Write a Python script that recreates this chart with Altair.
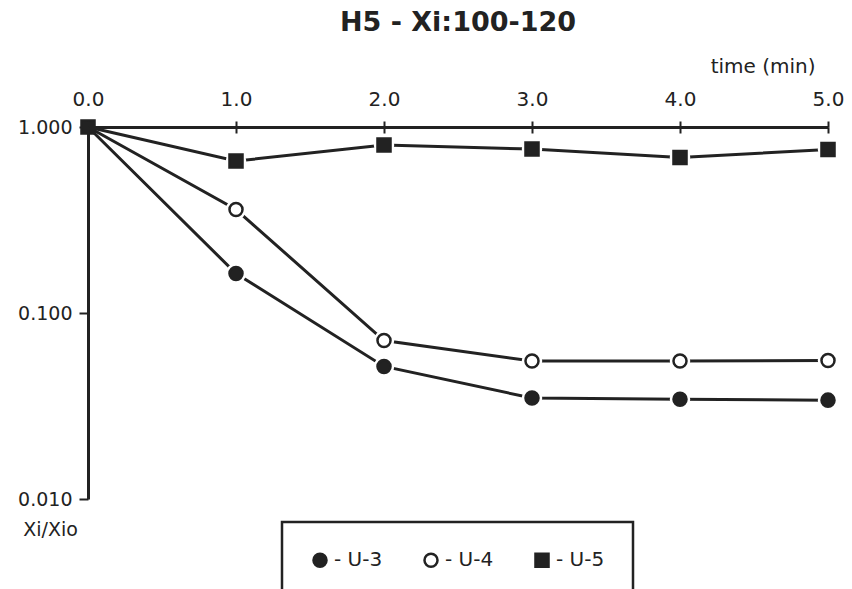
import altair as alt
import pandas as pd

# ---- data ----
times = [0.0, 1.0, 2.0, 3.0, 4.0, 5.0]
u3 = [1.0, 0.163, 0.0516, 0.0349, 0.0344, 0.0340]
u4 = [1.0, 0.360, 0.0711, 0.0552, 0.0552, 0.0555]
u5 = [1.0, 0.656, 0.80, 0.761, 0.686, 0.757]
series_names = ["U-3", "U-4", "U-5"]
x_ticks = [0, 1, 2, 3, 4, 5]
y_ticks = [0.01, 0.1, 1.0]

rows = []
for name, vals in zip(series_names, [u3, u4, u5]):
    for t, v in zip(times, vals):
        rows.append({"time": t, "ratio": v, "series": name})
df = pd.DataFrame(rows)

INK = "#222222"
FONT = "DejaVu Sans"
W, H = 740, 372

x_scale = alt.Scale(domain=[0, 5], nice=False, zero=False)
y_scale = alt.Scale(type="log", domain=[0.01, 1.0], nice=False)
shape_scale = alt.Scale(domain=series_names, range=["circle", "circle", "square"])

x_main = alt.X(
    "time:Q",
    scale=x_scale,
    axis=alt.Axis(
        orient="top", values=x_ticks, format=".1f", grid=False, zindex=1,
        title="time (min)", titleX=727, titleY=-61, titleAlign="right",
        titleBaseline="middle", titleFont=FONT, titleFontSize=20,
        titleFontWeight="normal", titleColor=INK,
        labelFont=FONT, labelFontSize=20, labelColor=INK, labelPadding=12,
        labelFlush=False,
        tickSize=6, tickWidth=2, tickColor=INK,
        domainColor=INK, domainWidth=3,
    ),
)

y_enc = alt.Y(
    "ratio:Q",
    scale=y_scale,
    axis=alt.Axis(
        orient="left", values=y_ticks, format=".3f", grid=False, zindex=1,
        title="Xi/Xio", titleAngle=0, titleX=-38, titleY=402,
        titleAlign="center", titleBaseline="middle", titleFont=FONT,
        titleFontSize=19, titleFontWeight="normal", titleColor=INK,
        labelFont=FONT, labelFontSize=19, labelColor=INK, labelPadding=7,
        labelFlush=False,
        tickSize=9, tickWidth=2, tickColor=INK,
        domainColor=INK, domainWidth=3,
    ),
)

lines = alt.Chart(df).mark_line(color=INK, strokeWidth=3).encode(
    x=x_main,
    y=y_enc,
    detail="series:N",
)

# white halo under the markers: leaves the small gaps where lines meet markers
halo = (
    alt.Chart(df)
    .transform_filter("datum.time > 0")
    .mark_circle(opacity=1, color="white", size=420)
    .encode(
        x=alt.X("time:Q", scale=x_scale, axis=None),
        y=alt.Y("ratio:Q", scale=y_scale),
    )
)

legend = alt.Legend(
    title=None, orient="none", legendX=194, legendY=395,
    direction="horizontal", strokeColor=INK,
    padding=28, columnPadding=36, labelFont=FONT, labelFontSize=20,
    labelColor=INK, labelOffset=4, labelExpr="'- ' + datum.label",
    symbolSize=170, symbolStrokeColor=INK, symbolStrokeWidth=2.5,
    fillColor="white",
)

x_inner = alt.X(
    "time:Q",
    scale=x_scale,
    axis=alt.Axis(
        orient="bottom", offset=-H, values=x_ticks, labels=False, zindex=1,
        domain=False, grid=False, title=None,
        tickSize=6, tickWidth=2, tickColor=INK,
    ),
)

points = (
    alt.Chart(df)
    .transform_filter("datum.time > 0 || datum.series == 'U-5'")
    .mark_point(filled=True, opacity=1, size=170, strokeWidth=2.5)
    .encode(
        x=x_inner,
        y=alt.Y("ratio:Q", scale=y_scale),
        shape=alt.Shape("series:N", scale=shape_scale, legend=legend),
        fill=alt.Fill(
            "series:N",
            scale=alt.Scale(domain=series_names, range=[INK, "white", INK]),
            legend=legend,
        ),
        stroke=alt.Stroke(
            "series:N",
            scale=alt.Scale(domain=series_names, range=[INK, INK, INK]),
            legend=legend,
        ),
    )
)

chart = (
    alt.layer(lines, halo, points)
    .resolve_scale(x="shared", y="shared")
    .resolve_axis(x="independent")
    .properties(
        width=W, height=H,
        autosize=alt.AutoSizeParams(type="none"),
        padding={"left": 88, "top": 127, "right": 24, "bottom": 90},
        background="white",
        title=alt.TitleParams(
            "H5 - Xi:100-120", font=FONT, fontSize=27, fontWeight="bold",
            color=INK, anchor="middle", frame="group", offset=0, dy=-19,
        ),
    )
    .configure_view(stroke=None)
    .configure_legend(strokeWidth=2.5)
)

chart.save("out.html", embed_options={"renderer": "svg", "actions": False})
